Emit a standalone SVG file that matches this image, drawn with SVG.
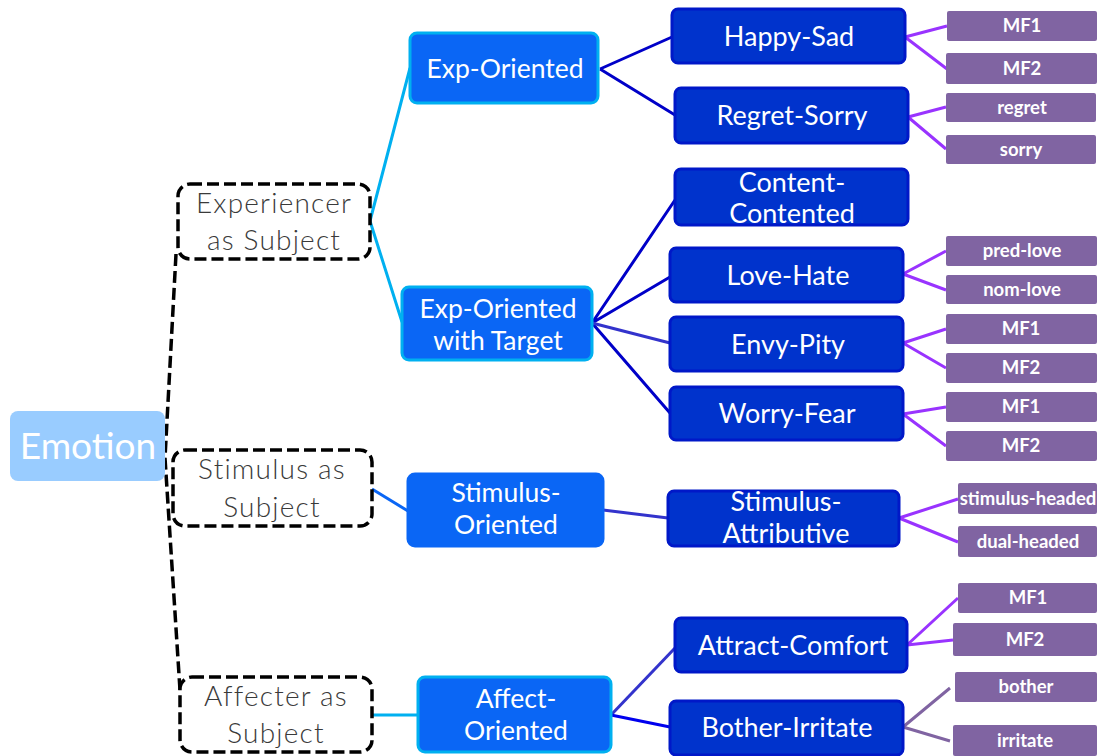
<svg xmlns="http://www.w3.org/2000/svg" width="1102" height="756" viewBox="0 0 1102 756">
  <style>
    text { font-family: Lato, "Open Sans", "Liberation Sans", sans-serif; text-anchor: middle; }
    .root rect { fill: #99ccff; }
    .root text { fill: #ffffff; font-size: 37px; }
    .grp rect { fill: #ffffff; stroke: #000000; stroke-width: 3.5; stroke-dasharray: 12 5; }
    .grp text { fill: #3a3a3a; font-size: 28px; font-weight: 300; letter-spacing: 1.2px; }
    .l2 rect { fill: #0a66f5; stroke: #00b0f0; stroke-width: 3; }
    .l2.plain rect { stroke: #0a66f5; }
    .l2 text { fill: #ffffff; font-size: 26.5px; }
    .l3 rect { fill: #0033cc; stroke: #0018c8; stroke-width: 3; }
    .l3 text { fill: #ffffff; font-size: 27px; }
    .leaf rect { fill: #8064a2; }
    .leaf text { fill: #ffffff; font-size: 18.5px; font-weight: bold; }
    .cn { fill: none; stroke-width: 3; }
    .cyan { stroke: #00b0f0; }
    .blue { stroke: #0a66f5; }
    .navy { stroke: #0000c8; }
    .indigo { stroke: #3333cc; }
    .violet { stroke: #9933ff; }
    .mauve { stroke: #8064a2; }
    .dash { stroke: #000000; stroke-width: 3.5; stroke-dasharray: 12 5; }
  </style>

  <!-- connectors -->
  <g id="connectors">
    <path class="cn dash" d="M176,254 L165,458 L180,690"/>
    <path class="cn cyan" d="M370,221 L410,68 M370,221 L402,322"/>
    <path class="cn blue" d="M372,489 L408,511"/>
    <path class="cn cyan" d="M372,715 L418,715"/>
    <path class="cn navy" d="M600,69 L672,37 M600,69 L675,115"/>
    <path class="cn navy" d="M592,323 L675,200 M592,323 L670,277 M592,323 L670,413"/>
    <path class="cn indigo" d="M592,323 L670,343"/>
    <path class="cn indigo" d="M603,510 L668,518"/>
    <path class="cn indigo" d="M611,715 L675,648"/>
    <path class="cn" stroke="#0000ee" d="M611,715 L670,727"/>
    <path class="cn violet" d="M905,37 L947,26 M905,37 L947,69"/>
    <path class="cn violet" d="M908,117 L946,107 M908,117 L946,149"/>
    <path class="cn violet" d="M903,274 L946,251 M903,274 L946,290"/>
    <path class="cn violet" d="M903,343 L946,329 M903,343 L946,368"/>
    <path class="cn violet" d="M903,414 L946,407 M903,414 L946,446"/>
    <path class="cn violet" d="M899,518 L958,499 M899,518 L958,542"/>
    <path class="cn violet" d="M907,645 L958,598 M907,645 L953,640"/>
    <path class="cn mauve" d="M903,727 L950,688 M903,727 L950,741"/>
  </g>

  <g id="emotion" class="root">
    <rect x="10" y="411" width="155" height="70" rx="8"/>
    <text x="88" y="459">Emotion</text>
  </g>

  <g id="experiencer-subject" class="grp">
    <rect x="178" y="184" width="192" height="75" rx="12"/>
    <text x="274" y="213">Experiencer</text>
    <text x="274" y="250">as Subject</text>
  </g>
  <g id="stimulus-subject" class="grp">
    <rect x="173" y="450" width="199" height="76" rx="12"/>
    <text x="272" y="479">Stimulus as</text>
    <text x="272" y="517">Subject</text>
  </g>
  <g id="affecter-subject" class="grp">
    <rect x="180" y="677" width="192" height="75" rx="12"/>
    <text x="276" y="706">Affecter as</text>
    <text x="276" y="743">Subject</text>
  </g>

  <g id="exp-oriented" class="l2">
    <rect x="410" y="33" width="188" height="70" rx="7"/>
    <text x="505" y="78">Exp-Oriented</text>
  </g>
  <g id="exp-oriented-target" class="l2">
    <rect x="402" y="287" width="190" height="73" rx="7"/>
    <text x="498" y="318">Exp-Oriented</text>
    <text x="498" y="350">with Target</text>
  </g>
  <g id="stimulus-oriented" class="l2 plain">
    <rect x="408" y="474" width="195" height="72" rx="7"/>
    <text x="506" y="502">Stimulus-</text>
    <text x="506" y="534">Oriented</text>
  </g>
  <g id="affect-oriented" class="l2">
    <rect x="418" y="677" width="193" height="75" rx="7"/>
    <text x="516" y="708">Affect-</text>
    <text x="516" y="740">Oriented</text>
  </g>

  <g id="happy-sad" class="l3">
    <rect x="672" y="9" width="233" height="54" rx="6"/>
    <text x="789" y="46">Happy-Sad</text>
  </g>
  <g id="regret-sorry" class="l3">
    <rect x="675" y="88" width="233" height="55" rx="6"/>
    <text x="792" y="125">Regret-Sorry</text>
  </g>
  <g id="content-contented" class="l3">
    <rect x="675" y="169" width="233" height="56" rx="6"/>
    <text x="792" y="192">Content-</text>
    <text x="792" y="223">Contented</text>
  </g>
  <g id="love-hate" class="l3">
    <rect x="670" y="248" width="233" height="54" rx="6"/>
    <text x="788" y="285">Love-Hate</text>
  </g>
  <g id="envy-pity" class="l3">
    <rect x="670" y="317" width="233" height="54" rx="6"/>
    <text x="788" y="354">Envy-Pity</text>
  </g>
  <g id="worry-fear" class="l3">
    <rect x="670" y="387" width="233" height="53" rx="6"/>
    <text x="787" y="423">Worry-Fear</text>
  </g>
  <g id="stimulus-attributive" class="l3">
    <rect x="668" y="491" width="231" height="55" rx="6"/>
    <text x="786" y="511">Stimulus-</text>
    <text x="786" y="543">Attributive</text>
  </g>
  <g id="attract-comfort" class="l3">
    <rect x="675" y="618" width="232" height="54" rx="6"/>
    <text x="793" y="655">Attract-Comfort</text>
  </g>
  <g id="bother-irritate" class="l3">
    <rect x="670" y="701" width="233" height="54" rx="6"/>
    <text x="787" y="737">Bother-Irritate</text>
  </g>

  <g id="hs-mf1" class="leaf"><rect x="947" y="11" width="150" height="30" rx="2"/><text x="1022" y="32">MF1</text></g>
  <g id="hs-mf2" class="leaf"><rect x="946" y="53" width="151" height="31" rx="2"/><text x="1022" y="75">MF2</text></g>
  <g id="rs-regret" class="leaf"><rect x="946" y="93" width="150" height="29" rx="2"/><text x="1022" y="114">regret</text></g>
  <g id="rs-sorry" class="leaf"><rect x="946" y="135" width="150" height="29" rx="2"/><text x="1021" y="156">sorry</text></g>
  <g id="lh-pred-love" class="leaf"><rect x="946" y="236" width="151" height="30" rx="2"/><text x="1022" y="257">pred-love</text></g>
  <g id="lh-nom-love" class="leaf"><rect x="946" y="275" width="151" height="29" rx="2"/><text x="1022" y="296">nom-love</text></g>
  <g id="ep-mf1" class="leaf"><rect x="946" y="314" width="151" height="30" rx="2"/><text x="1021" y="335">MF1</text></g>
  <g id="ep-mf2" class="leaf"><rect x="946" y="353" width="151" height="30" rx="2"/><text x="1021" y="374">MF2</text></g>
  <g id="wf-mf1" class="leaf"><rect x="946" y="392" width="151" height="30" rx="2"/><text x="1021" y="413">MF1</text></g>
  <g id="wf-mf2" class="leaf"><rect x="946" y="431" width="151" height="30" rx="2"/><text x="1021" y="452">MF2</text></g>
  <g id="sa-stimulus-headed" class="leaf"><rect x="958" y="483" width="139" height="31" rx="2"/><text x="1028" y="505">stimulus-headed</text></g>
  <g id="sa-dual-headed" class="leaf"><rect x="958" y="526" width="139" height="31" rx="2"/><text x="1028" y="548">dual-headed</text></g>
  <g id="ac-mf1" class="leaf"><rect x="958" y="583" width="139" height="30" rx="2"/><text x="1028" y="604">MF1</text></g>
  <g id="ac-mf2" class="leaf"><rect x="953" y="623" width="144" height="33" rx="2"/><text x="1025" y="646">MF2</text></g>
  <g id="bi-bother" class="leaf"><rect x="955" y="672" width="142" height="30" rx="2"/><text x="1026" y="693">bother</text></g>
  <g id="bi-irritate" class="leaf"><rect x="953" y="725" width="144" height="31" rx="2"/><text x="1025" y="747">irritate</text></g>
</svg>
